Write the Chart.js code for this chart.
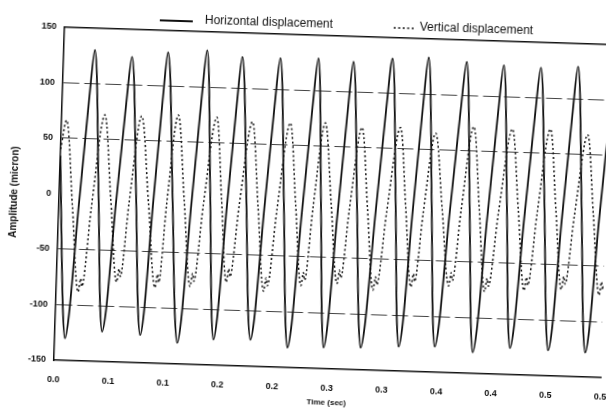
<!DOCTYPE html>
<html>
<head>
<meta charset="utf-8">
<script src="https://cdn.jsdelivr.net/npm/chart.js@4.4.1/dist/chart.umd.min.js"></script>
<style>
  html, body { margin: 0; padding: 0; background: #fff; overflow: hidden; width: 606px; height: 410px; }
  #chart { position: absolute; left: 0; top: 0; transform-origin: 303px 205px; transform: rotate(1.83deg); }
</style>
</head>
<body>
<canvas id="chart" width="640" height="410"></canvas>
<script>
// time (s) and amplitude (micron)
const horizontalTime = [
  0.0000, 0.0067, 0.0094, 0.0124, 0.0180, 0.0246, 0.0284, 0.0358, 0.0405,
  0.0431, 0.0462, 0.0518, 0.0586, 0.0625, 0.0703, 0.0752,
  0.0780, 0.0808, 0.0858, 0.0918, 0.0953, 0.1037, 0.1091,
  0.1121, 0.1151, 0.1206, 0.1272, 0.1310, 0.1380, 0.1425,
  0.1450, 0.1479, 0.1532, 0.1596, 0.1633, 0.1711, 0.1760,
  0.1788, 0.1819, 0.1875, 0.1942, 0.1981, 0.2055, 0.2102,
  0.2129, 0.2161, 0.2219, 0.2289, 0.2329, 0.2394, 0.2436,
  0.2459, 0.2490, 0.2545, 0.2612, 0.2650, 0.2724, 0.2771,
  0.2798, 0.2831, 0.2892, 0.2964, 0.3006, 0.3076, 0.3120,
  0.3145, 0.3176, 0.3231, 0.3298, 0.3336, 0.3405, 0.3449,
  0.3474, 0.3508, 0.3569, 0.3643, 0.3685, 0.3754, 0.3798,
  0.3823, 0.3855, 0.3914, 0.3985, 0.4025, 0.4094, 0.4137,
  0.4162, 0.4194, 0.4253, 0.4324, 0.4364, 0.4438, 0.4485,
  0.4511, 0.4542, 0.4597, 0.4665, 0.4703, 0.4777, 0.4824,
  0.4851, 0.4882, 0.4937, 0.5000
];
const horizontalAmp = [
  34, -104, -130, -109, -13, 86, 130, 4, -98,
  -123, -103, -11, 83, 125, 0, -100,
  -125, -105, -10, 87, 130, -1, -105,
  -131, -110, -12, 88, 133, 3, -101,
  -127, -107, -12, 85, 128, 1, -101,
  -126, -106, -12, 85, 128, -2, -106,
  -132, -111, -15, 85, 129, -1, -105,
  -131, -110, -15, 83, 127, -2, -104,
  -130, -109, -13, 87, 131, 2, -102,
  -128, -107, -11, 89, 133, 3, -101,
  -127, -106, -11, 86, 130, -1, -105,
  -131, -110, -14, 84, 128, 1, -101,
  -126, -106, -12, 84, 127, 0, -102,
  -127, -107, -12, 85, 129, 1, -102,
  -128, -107, -12, 75
];

const verticalTime = [
  0.0000, 0.0046, 0.0124,
  0.0202, 0.0220, 0.0234, 0.0298, 0.0394, 0.0472,
  0.0550, 0.0568, 0.0582, 0.0641, 0.0731, 0.0817,
  0.0903, 0.0921, 0.0935, 0.0984, 0.1065, 0.1144,
  0.1223, 0.1241, 0.1255, 0.1320, 0.1418, 0.1485,
  0.1552, 0.1570, 0.1584, 0.1648, 0.1745, 0.1820,
  0.1896, 0.1914, 0.1928, 0.1993, 0.2091, 0.2163,
  0.2235, 0.2253, 0.2267, 0.2323, 0.2411, 0.2487,
  0.2564, 0.2582, 0.2596, 0.2656, 0.2748, 0.2821,
  0.2895, 0.2913, 0.2927, 0.2997, 0.3099, 0.3169,
  0.3240, 0.3258, 0.3272, 0.3331, 0.3422, 0.3503,
  0.3585, 0.3603, 0.3617, 0.3677, 0.3769, 0.3842,
  0.3915, 0.3933, 0.3947, 0.4018, 0.4122, 0.4198,
  0.4275, 0.4293, 0.4307, 0.4372, 0.4469, 0.4542,
  0.4615, 0.4633, 0.4647, 0.4713, 0.4811, 0.4886,
  0.4962, 0.4980, 0.4994, 0.5000
];
const verticalAmp = [
  40, 66, -11,
  -88, -76, -83, -11, 72, -3,
  -78, -66, -73, -6, 72, -5,
  -82, -70, -77, -7, 74, -3,
  -80, -68, -75, -6, 73, -1,
  -75, -63, -70, -5, 70, -6,
  -82, -70, -77, -9, 70, -3,
  -76, -64, -71, -5, 71, -1,
  -73, -61, -68, -5, 68, -5,
  -78, -66, -73, -7, 69, -2,
  -74, -62, -69, -7, 65, -3,
  -72, -60, -67, -3, 72, -2,
  -76, -64, -71, -5, 71, -1,
  -74, -62, -69, -4, 72, 0,
  -72, -60, -67, -5, 68, -4,
  -76, -64, -71, -66
];

const timeTicks = [0, 0.05, 0.1, 0.15, 0.2, 0.25, 0.3, 0.35, 0.4, 0.45, 0.5];
const timeTickLabels = ['0.0', '0.1', '0.1', '0.2', '0.2', '0.3', '0.3', '0.4', '0.4', '0.5', '0.5'];
const ampTicks = [-150, -100, -50, 0, 50, 100, 150];
const ampGridLines = [-100, -50, 50, 100];

Chart.defaults.font.family = '"Liberation Sans", Arial, sans-serif';
Chart.defaults.color = '#111';

const toPoints = (xs, ys) => xs.map((t, i) => ({x: t, y: ys[i]}));

// legend sits on the top frame line, like the scan
const scanLegend = {
    id: 'scanLegend',
    afterDraw(chart) {
        const ctx = chart.ctx;
        const spots = [{x: 154, len: 33, text: 199}, {x: 388, len: 22, text: 414}];
        ctx.save();
        ctx.font = '12px "Liberation Sans", Arial, sans-serif';
        ctx.textBaseline = 'middle';
        ctx.fillStyle = '#111';
        chart.data.datasets.forEach((ds, i) => {
            const s = spots[i];
            const y = 25;
            ctx.strokeStyle = ds.borderColor;
            ctx.lineWidth = ds.borderWidth;
            ctx.setLineDash(ds.borderDash || []);
            ctx.beginPath();
            ctx.moveTo(s.x, y);
            ctx.lineTo(s.x + s.len, y);
            ctx.stroke();
            ctx.setLineDash([]);
            ctx.fillText(ds.label, s.text, y - 1);
        });
        ctx.restore();
    }
};

const ctx = document.getElementById('chart').getContext('2d');

new Chart(ctx, {
    type: 'line',
    data: {
        datasets: [
            {
                label: 'Horizontal displacement',
                data: toPoints(horizontalTime, horizontalAmp),
                xAxisID: 'x',
                borderColor: '#111',
                borderWidth: 1.8,
                pointRadius: 0,
                cubicInterpolationMode: 'monotone',
                fill: false
            },
            {
                label: 'Vertical displacement',
                data: toPoints(verticalTime, verticalAmp),
                xAxisID: 'x',
                borderColor: '#111',
                borderWidth: 1.5,
                borderDash: [2, 2.5],
                pointRadius: 0,
                cubicInterpolationMode: 'monotone',
                fill: false
            }
        ]
    },
    options: {
        responsive: false,
        animation: false,
        layout: {padding: {top: 34.5, right: 34, bottom: 0, left: 0}},
        plugins: {
            legend: {display: false},
            tooltip: {enabled: false}
        },
        scales: {
            x: {
                type: 'linear',
                min: 0,
                max: 0.5,
                afterBuildTicks: (s) => { s.ticks = timeTicks.map(v => ({value: v})); },
                afterFit: (s) => { s.height = 42; },
                grid: {display: false, drawTicks: false},
                border: {color: '#111', width: 1.5},
                ticks: {
                    padding: 14,
                    autoSkip: false,
                    maxRotation: 0,
                    font: {size: 9, weight: 'bold'},
                    callback: (v, i) => timeTickLabels[i]
                },
                title: {
                    display: true,
                    text: 'Time (sec)',
                    font: {size: 8, weight: 'bold'},
                    padding: {top: 0, bottom: 3}
                }
            },
            x2: {
                type: 'linear',
                position: 'top',
                min: 0,
                max: 0.5,
                grid: {display: false, drawTicks: false},
                ticks: {display: false},
                border: {color: '#111', width: 1.5},
                afterFit: (s) => { s.height = 0; }
            },
            y: {
                min: -150,
                max: 150,
                afterBuildTicks: (s) => { s.ticks = ampTicks.map(v => ({value: v})); },
                afterFit: (s) => { s.width = 59; },
                grid: {
                    drawTicks: false,
                    lineWidth: 1,
                    color: (c) => ampGridLines.includes(c.tick && c.tick.value) ? '#444' : 'rgba(0,0,0,0)'
                },
                border: {color: '#111', width: 1.5, dash: [16, 5]},
                ticks: {
                    padding: 8,
                    font: {size: 9, weight: 'bold'}
                },
                title: {
                    display: true,
                    text: 'Amplitude (micron)',
                    font: {size: 10, weight: 'bold'},
                    padding: {top: 8, bottom: 0}
                }
            }
        }
    },
    plugins: [scanLegend]
});
</script>
</body>
</html>
